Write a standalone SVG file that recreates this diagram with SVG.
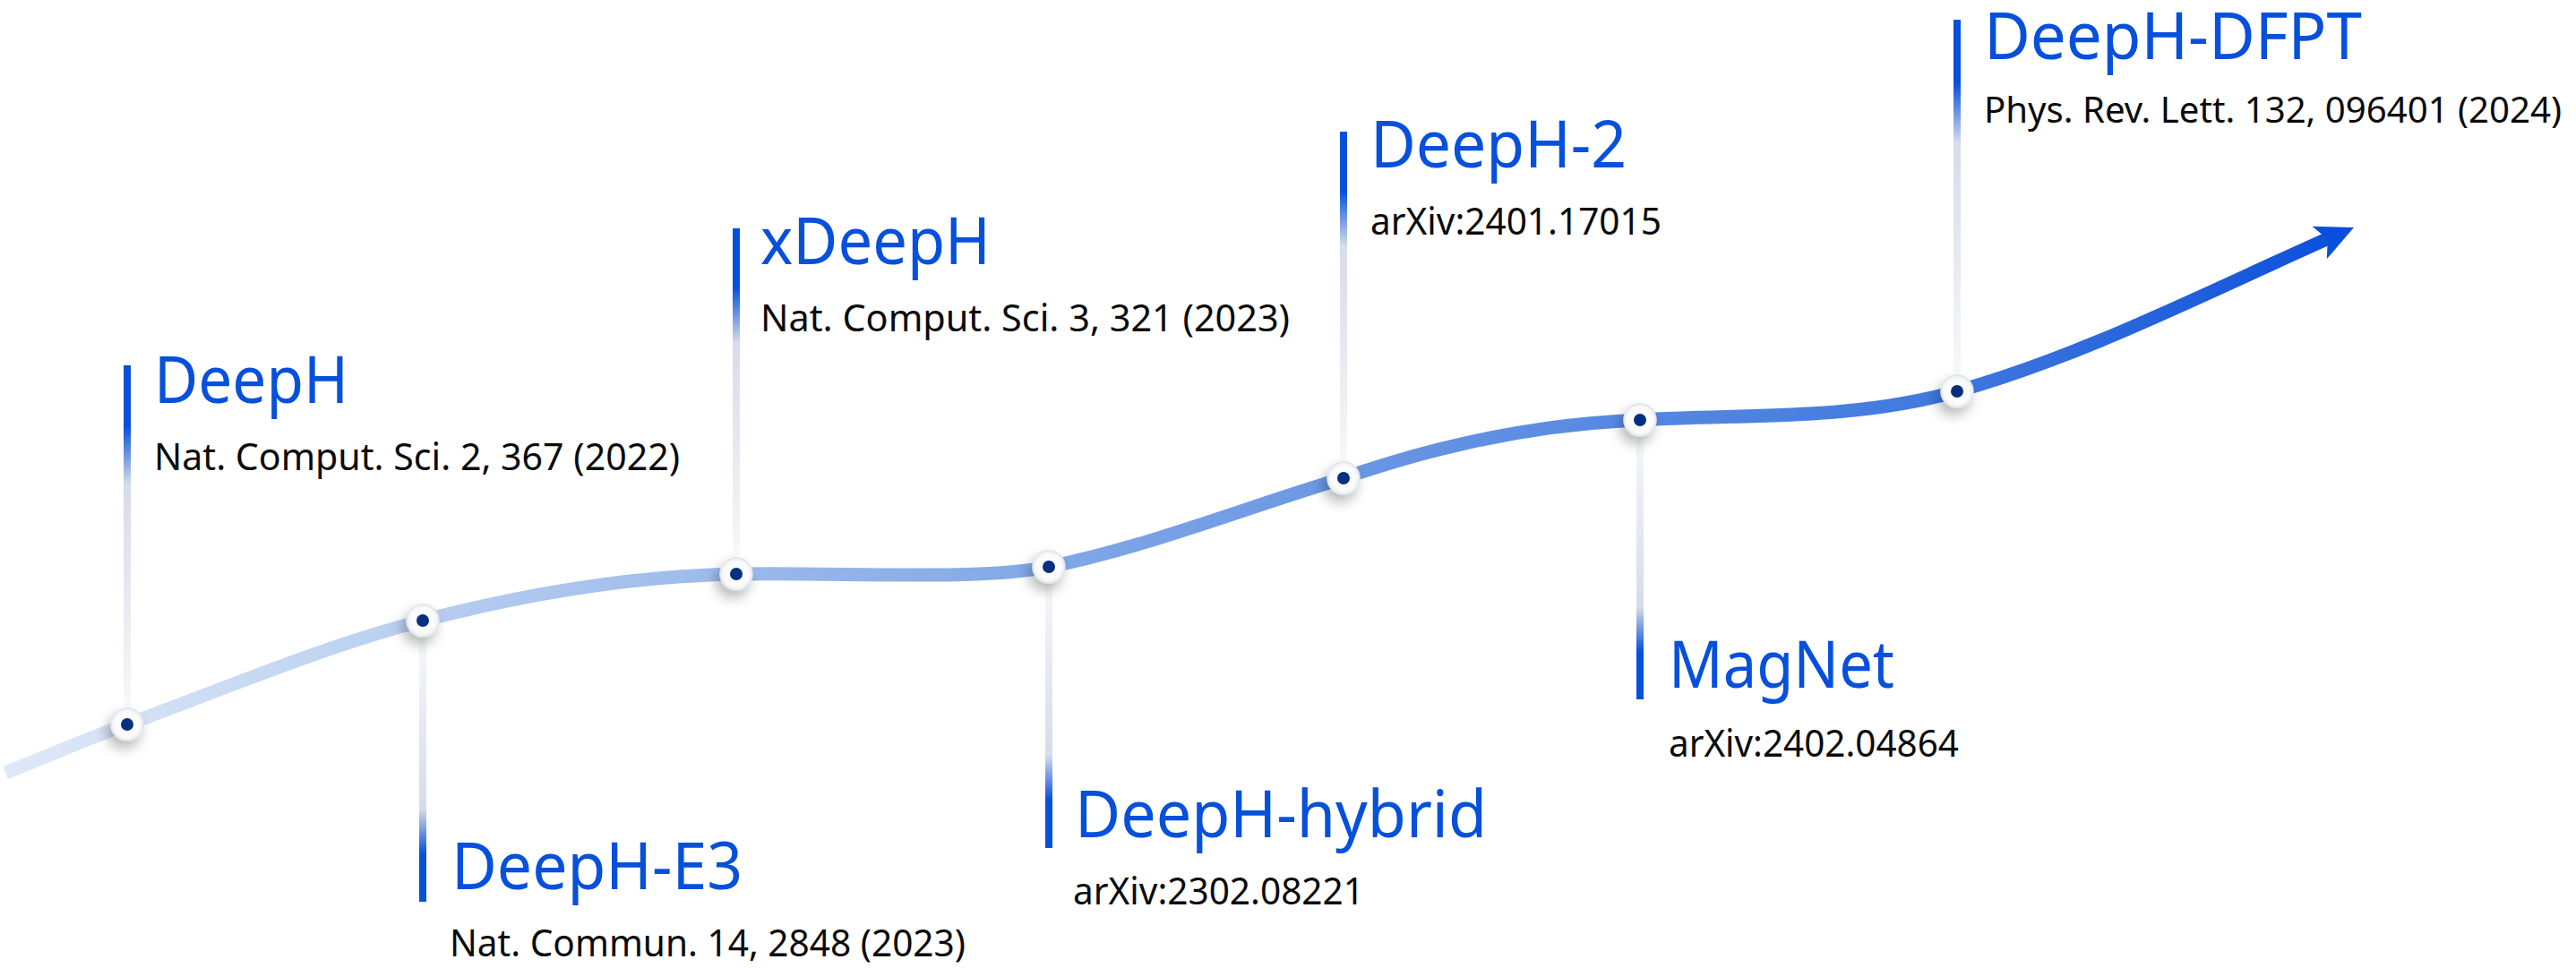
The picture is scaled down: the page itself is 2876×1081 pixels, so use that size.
<svg xmlns="http://www.w3.org/2000/svg" width="2876" height="1081" viewBox="0 0 2876 1081">
<style>
  .title { font-family: "Noto Sans", "Open Sans", sans-serif; font-size: 73px; fill: #0650dc; }
  .sub { font-family: "Noto Sans", "Open Sans", sans-serif; font-size: 42px; fill: #0a0a0a; }
  .barUp { fill: url(#gUp); }
  .barDown { fill: url(#gDown); }
  .ring { fill: url(#gRing); stroke: #e2e4e8; stroke-width: 1.5; filter: url(#shadow); }
  .core { fill: #06307f; }
</style>
<defs>
  <linearGradient id="gLine" gradientUnits="userSpaceOnUse" x1="0" y1="0" x2="2630" y2="0">
    <stop offset="0" stop-color="#dfeaf7"/>
    <stop offset="0.3" stop-color="#9dbbea"/>
    <stop offset="0.57" stop-color="#6a97e3"/>
    <stop offset="0.83" stop-color="#3f78de"/>
    <stop offset="1" stop-color="#0a4edc"/>
  </linearGradient>
  <linearGradient id="gUp" x1="0" y1="0" x2="0" y2="1">
    <stop offset="0" stop-color="#0650dc"/>
    <stop offset="0.17" stop-color="#0650dc"/>
    <stop offset="0.33" stop-color="#d6dce8"/>
    <stop offset="0.9" stop-color="#f4f5f9"/>
    <stop offset="1" stop-color="#ffffff"/>
  </linearGradient>
  <linearGradient id="gDown" x1="0" y1="0" x2="0" y2="1">
    <stop offset="0" stop-color="#ffffff"/>
    <stop offset="0.1" stop-color="#f4f5f9"/>
    <stop offset="0.67" stop-color="#d6dce8"/>
    <stop offset="0.83" stop-color="#0650dc"/>
    <stop offset="1" stop-color="#0650dc"/>
  </linearGradient>
  <radialGradient id="gRing" cx="0.5" cy="0.5" r="0.5">
    <stop offset="0" stop-color="#ffffff"/>
    <stop offset="0.75" stop-color="#fbfbfc"/>
    <stop offset="1" stop-color="#eceef1"/>
  </radialGradient>
  <filter id="shadow" x="-100%" y="-100%" width="300%" height="300%">
    <feDropShadow dx="-4" dy="8" stdDeviation="7" flood-color="#000" flood-opacity="0.28"/>
  </filter>
</defs>

<g id="connectors">
  <path d="M 6 863 C 51 845.5, 97 824.7, 142 809 C 252 768.4, 362 721.6, 472 693 C 589 662.6, 705 643.3, 822 641 C 938 638.7, 1090 649, 1171 633 C 1280 611, 1390 567, 1500 534 C 1610 495.5, 1720 473.5, 1831 469 C 1948 462, 2067 470, 2185 437 C 2323 398.4, 2462 327.4, 2600 266" fill="none" stroke="url(#gLine)" stroke-width="15" stroke-linecap="butt"/>
  <polygon points="0,0 -42,-20 -32,0 -42,20" fill="#0a4edc" transform="translate(2628 254) rotate(-24)"/>
</g>

<g id="node-deeph">
  <rect class="barUp" x="138" y="408" width="8" height="401"/>
  <circle class="ring" cx="142" cy="809" r="18"/>
  <circle class="core" cx="142" cy="809" r="7"/>
  <text class="title" x="172" y="450" textLength="217" lengthAdjust="spacingAndGlyphs">DeepH</text>
  <text class="sub" x="172" y="525" textLength="587" lengthAdjust="spacingAndGlyphs">Nat. Comput. Sci. 2, 367 (2022)</text>
</g>

<g id="node-deeph-e3">
  <rect class="barDown" x="468" y="693" width="8" height="314"/>
  <circle class="ring" cx="472" cy="693" r="18"/>
  <circle class="core" cx="472" cy="693" r="7"/>
  <text class="title" x="504" y="993" textLength="325" lengthAdjust="spacingAndGlyphs">DeepH-E3</text>
  <text class="sub" x="502" y="1068" textLength="576" lengthAdjust="spacingAndGlyphs">Nat. Commun. 14, 2848 (2023)</text>
</g>

<g id="node-xdeeph">
  <rect class="barUp" x="818" y="255" width="8" height="386"/>
  <circle class="ring" cx="822" cy="641" r="18"/>
  <circle class="core" cx="822" cy="641" r="7"/>
  <text class="title" x="849" y="295" textLength="257" lengthAdjust="spacingAndGlyphs">xDeepH</text>
  <text class="sub" x="849" y="370" textLength="591" lengthAdjust="spacingAndGlyphs">Nat. Comput. Sci. 3, 321 (2023)</text>
</g>

<g id="node-deeph-hybrid">
  <rect class="barDown" x="1167" y="633" width="8" height="314"/>
  <circle class="ring" cx="1171" cy="633" r="18"/>
  <circle class="core" cx="1171" cy="633" r="7"/>
  <text class="title" x="1200" y="935" textLength="460" lengthAdjust="spacingAndGlyphs">DeepH-hybrid</text>
  <text class="sub" x="1198" y="1010" textLength="325" lengthAdjust="spacingAndGlyphs">arXiv:2302.08221</text>
</g>

<g id="node-deeph-2">
  <rect class="barUp" x="1496" y="147" width="8" height="387"/>
  <circle class="ring" cx="1500" cy="534" r="18"/>
  <circle class="core" cx="1500" cy="534" r="7"/>
  <text class="title" x="1530" y="187" textLength="286" lengthAdjust="spacingAndGlyphs">DeepH-2</text>
  <text class="sub" x="1530" y="262" textLength="325" lengthAdjust="spacingAndGlyphs">arXiv:2401.17015</text>
</g>

<g id="node-magnet">
  <rect class="barDown" x="1827" y="469" width="8" height="312"/>
  <circle class="ring" cx="1831" cy="469" r="18"/>
  <circle class="core" cx="1831" cy="469" r="7"/>
  <text class="title" x="1863" y="768" textLength="252" lengthAdjust="spacingAndGlyphs">MagNet</text>
  <text class="sub" x="1863" y="845" textLength="324" lengthAdjust="spacingAndGlyphs">arXiv:2402.04864</text>
</g>

<g id="node-deeph-dfpt">
  <rect class="barUp" x="2181" y="22" width="8" height="415"/>
  <circle class="ring" cx="2185" cy="437" r="18"/>
  <circle class="core" cx="2185" cy="437" r="7"/>
  <text class="title" x="2215" y="66" textLength="422" lengthAdjust="spacingAndGlyphs">DeepH-DFPT</text>
  <text class="sub" x="2215" y="137" style="font-size:40px" textLength="645" lengthAdjust="spacingAndGlyphs">Phys. Rev. Lett. 132, 096401 (2024)</text>
</g>
</svg>
